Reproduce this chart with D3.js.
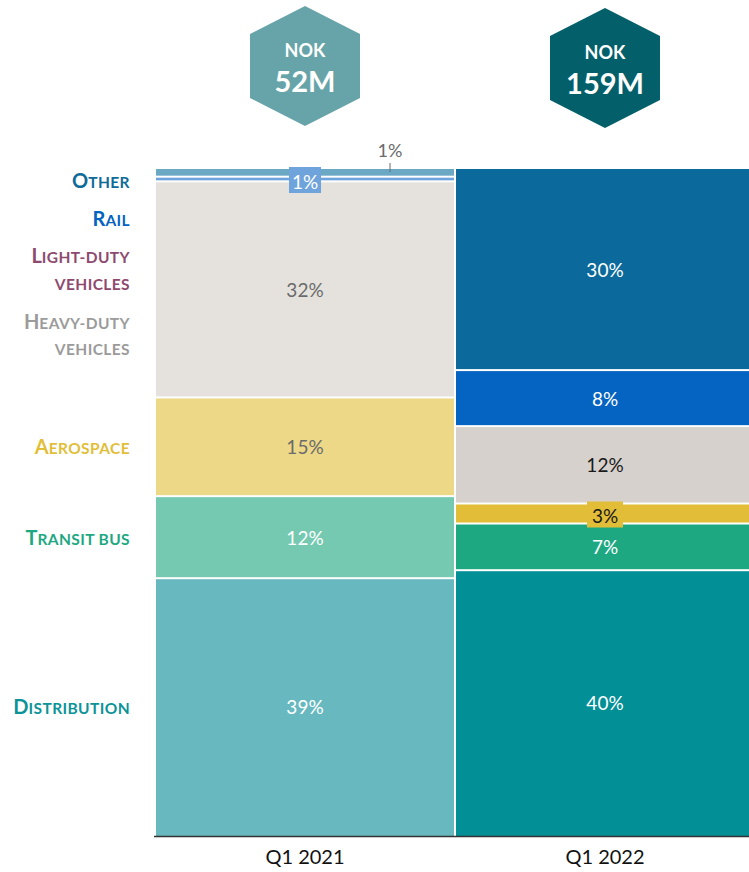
<!DOCTYPE html>
<html>
<head>
<meta charset="utf-8">
<script src="https://cdn.jsdelivr.net/npm/d3@7"></script>
<style>
  html, body { margin: 0; padding: 0; background: #ffffff; }
  svg { display: block; font-family: Lato, "Open Sans", sans-serif; }
</style>
</head>
<body>
<svg id="chart" width="749" height="872"></svg>
<script>
// ---- data ----
const periods = ["Q1 2021", "Q1 2022"];
const totals = ["52M", "159M"];
const currency = "NOK";
const categories = ["Other", "Rail", "Light-duty vehicles", "Heavy-duty vehicles", "Aerospace", "Transit bus", "Distribution"];
const valuesQ1_2021 = [1.3, 0.7, 0, 32.4, 14.8, 12.3, 38.5];
const valuesQ1_2022 = [30.3, 8.4, 0, 11.6, 3.0, 7.0, 39.7];

// ---- styles ----
const labelColors = ["#0f6b98", "#0563c1", "#8e4a6e", "#9b9b9b", "#e2be38", "#1ea882", "#0c9398"];
const fill2021 = ["#6aa8c3", "#6ea3dc", "#c9a0b7", "#e5e2de", "#ecd887", "#74c9b0", "#67b9bf"];
const fill2022 = ["#0b6a9b", "#0563c1", "#8e4a6e", "#d6d1cc", "#e2be38", "#1ea882", "#038f96"];
const hexColors = ["#66a4a9", "#035f6a"];

const svg = d3.select("#chart");
const x = d3.scaleBand().domain(periods).range([156, 756]).padding(0);
const y = d3.scaleLinear().domain([0, 100]).range([836, 169]);

const seriesByPeriod = [valuesQ1_2021, valuesQ1_2022];
const fills = [fill2021, fill2022];
const fmt = v => Math.round(v) + "%";

// bars
periods.forEach((p, pi) => {
  const vals = seriesByPeriod[pi];
  let cum = 100;
  const segs = [];
  vals.forEach((v, ci) => {
    const top = cum;
    cum -= v;
    segs.push({ ci, v, top, bottom: Math.max(0, cum) });
  });
  const g = svg.append("g");
  segs.filter(s => s.v > 0).forEach(s => {
    const y0 = y(s.top);
    const y1 = y(s.bottom);
    const isBottom = s.bottom <= 0.0001;
    g.append("rect")
      .attr("x", x(p))
      .attr("y", y0)
      .attr("width", x.bandwidth() - 2)
      .attr("height", Math.max(0.5, y1 - y0 - (isBottom ? 0 : 2)))
      .attr("fill", fills[pi][s.ci]);
  });
  // labels
  segs.filter(s => s.v > 0).forEach(s => {
    const cx = x(p) + (x.bandwidth() - 2) / 2;
    const cy = (y(s.top) + y(s.bottom)) / 2 - 1;
    let color = "#ffffff";
    const dark2021 = { 3: "#6b6b6b", 4: "#6b6b6b" };
    const dark2022 = { 3: "#1a1a1a", 4: "#1a1a1a" };
    if (pi === 0 && dark2021[s.ci]) color = dark2021[s.ci];
    if (pi === 1 && dark2022[s.ci]) color = dark2022[s.ci];
    const txt = fmt(s.v);
    if (pi === 0 && s.ci === 0) {
      // external label with tick
      const lx = x(p) + 234;
      g.append("line").attr("x1", lx).attr("x2", lx).attr("y1", 163).attr("y2", 172)
        .attr("stroke", "#6b6b6b").attr("stroke-width", 1);
      g.append("text").attr("x", lx).attr("y", 150).attr("text-anchor", "middle")
        .attr("dominant-baseline", "central").attr("font-size", 18).attr("fill", "#6b6b6b").text(txt);
      return;
    }
    if ((pi === 0 && s.ci === 1) || (pi === 1 && s.ci === 4)) {
      const bw = pi === 0 ? 32 : 36, bh = 26;
      const by = pi === 0 ? 180 - bh / 2 : cy - bh / 2 + 1;
      g.append("rect").attr("x", cx - bw / 2).attr("y", by).attr("width", bw).attr("height", bh)
        .attr("fill", fills[pi][s.ci]);
      g.append("text").attr("x", cx).attr("y", by + bh / 2 + 1).attr("text-anchor", "middle")
        .attr("dominant-baseline", "central").attr("font-size", 19)
        .attr("fill", pi === 0 ? "#ffffff" : "#1a1a1a").text(txt);
      return;
    }
    g.append("text").attr("x", cx).attr("y", cy).attr("text-anchor", "middle")
      .attr("dominant-baseline", "central").attr("font-size", 19).attr("fill", color).text(txt);
  });
});

// axis
const axis = svg.append("g").attr("transform", "translate(0,836)")
  .call(d3.axisBottom(x).tickSize(0).tickSizeOuter(0).tickPadding(14));
axis.select(".domain").attr("stroke", "#333").attr("stroke-width", 1.5)
  .attr("d", "M154,0.5H749");
axis.selectAll(".tick text").attr("font-size", 20).attr("fill", "#111")
  .attr("font-family", "Lato, sans-serif")
  .attr("dx", -1);

// hexagons
periods.forEach((p, pi) => {
  const cx = x(p) + (x.bandwidth() - 2) / 2;
  const top = pi === 0 ? 6 : 8;
  const w = 55, h = 120;
  const pts = [[cx, top], [cx + w, top + 28], [cx + w, top + 92], [cx, top + h], [cx - w, top + 92], [cx - w, top + 28]];
  svg.append("polygon").attr("points", pts.map(d => d.join(",")).join(" ")).attr("fill", hexColors[pi]);
  svg.append("text").attr("x", cx).attr("y", top + 44).attr("text-anchor", "middle")
    .attr("dominant-baseline", "central").attr("font-size", 18).attr("font-weight", 700)
    .attr("fill", "#ffffff").text(currency);
  svg.append("text").attr("x", cx).attr("y", top + 74).attr("text-anchor", "middle")
    .attr("dominant-baseline", "central").attr("font-size", 29).attr("font-weight", 700)
    .attr("fill", "#ffffff").text(totals[pi]);
});

// category labels (small caps style)
const labelLines = [
  { ci: 0, lines: [["O", "THER"]], ys: [182] },
  { ci: 1, lines: [["R", "AIL"]], ys: [220] },
  { ci: 2, lines: [["L", "IGHT-DUTY"], ["", "VEHICLES"]], ys: [257, 284] },
  { ci: 3, lines: [["H", "EAVY-DUTY"], ["", "VEHICLES"]], ys: [323, 349] },
  { ci: 4, lines: [["A", "EROSPACE"]], ys: [448] },
  { ci: 5, lines: [["T", "RANSIT BUS"]], ys: [539] },
  { ci: 6, lines: [["D", "ISTRIBUTION"]], ys: [708] }
];
labelLines.forEach(l => {
  l.lines.forEach((ln, i) => {
    const t = svg.append("text").attr("x", 130).attr("y", l.ys[i] + 6)
      .attr("text-anchor", "end").attr("font-weight", 700)
      .attr("fill", labelColors[l.ci]);
    if (ln[0]) t.append("tspan").attr("font-size", 20).text(ln[0]);
    t.append("tspan").attr("font-size", 15.5).attr("letter-spacing", 0.4).text(ln[1]);
  });
});
</script>
</body>
</html>
